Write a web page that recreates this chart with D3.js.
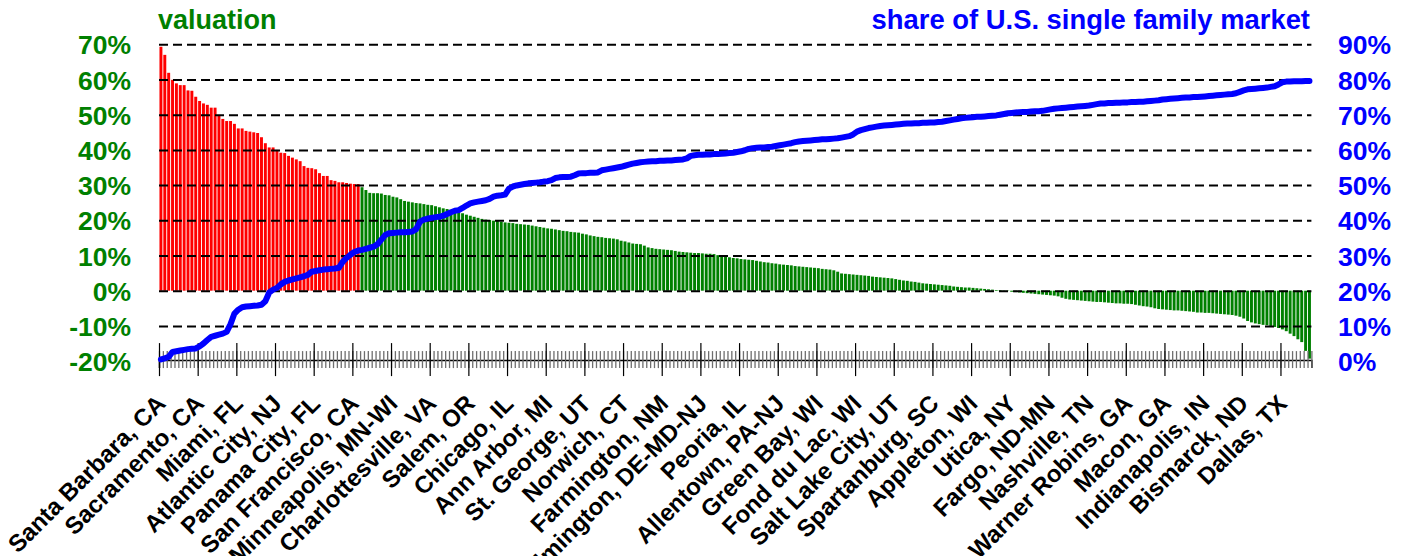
<!DOCTYPE html>
<html><head><meta charset="utf-8">
<script src="https://cdn.jsdelivr.net/npm/d3@7"></script>
<style>html,body{margin:0;padding:0;background:#fff;} svg{display:block;font-family:"Liberation Sans",Arial,sans-serif;font-weight:bold;}</style>
</head><body><svg id="c" width="1408" height="556"></svg>
<script>
const labels = ["Santa Barbara, CA","Sacramento, CA","Miami, FL","Atlantic City, NJ","Panama City, FL","San Francisco, CA","Minneapolis, MN-WI","Charlottesville, VA","Salem, OR","Chicago, IL","Ann Arbor, MI","St. George, UT","Norwich, CT","Farmington, NM","Wilmington, DE-MD-NJ","Peoria, IL","Allentown, PA-NJ","Green Bay, WI","Fond du Lac, WI","Salt Lake City, UT","Spartanburg, SC","Appleton, WI","Utica, NY","Fargo, ND-MN","Nashville, TN","Warner Robins, GA","Macon, GA","Indianapolis, IN","Bismarck, ND","Dallas, TX"];

const valuation = [
69.3,67.0,61.9,59.9,58.9,58.4,58.4,56.9,56.8,55.1,
53.9,53.2,52.8,52.0,52.0,49.9,48.8,48.2,48.2,47.4,
46.1,46.1,45.4,45.2,45.0,44.8,43.6,41.9,40.7,40.7,
40.0,39.2,39.1,38.3,37.8,37.3,36.8,35.4,34.9,34.8,
34.5,33.4,32.6,32.6,31.4,31.2,30.8,30.8,30.6,30.4,
30.3,30.3,29.4,28.6,27.8,27.7,27.7,27.6,27.2,27.1,
26.7,26.5,26.0,25.5,25.3,25.1,24.9,24.8,24.6,24.4,
24.3,24.0,23.7,23.4,23.2,22.9,22.5,22.2,22.0,21.6,
21.3,21.0,20.7,20.4,20.2,20.1,19.9,19.8,19.6,19.4,
19.3,19.2,19.0,18.9,18.8,18.7,18.5,18.3,18.1,17.9,
17.7,17.6,17.4,17.2,17.0,16.9,16.7,16.6,16.5,16.2,
16.0,15.7,15.5,15.3,15.2,15.0,14.9,14.8,14.6,14.2,
14.0,13.7,13.4,13.3,13.2,12.8,12.3,12.1,11.9,11.8,
11.7,11.6,11.5,11.3,11.1,11.0,10.9,10.8,10.7,10.7,
10.6,10.5,10.5,10.4,10.1,9.8,9.6,9.5,9.3,9.2,
9.0,8.9,8.8,8.7,8.5,8.3,8.1,8.0,7.8,7.7,
7.5,7.4,7.3,7.2,7.0,6.9,6.8,6.7,6.6,6.5,
6.4,6.2,6.1,6.0,5.8,5.4,4.9,4.8,4.7,4.6,
4.5,4.4,4.3,4.2,4.0,3.9,3.8,3.7,3.6,3.5,
3.3,3.1,2.9,2.8,2.6,2.5,2.3,2.1,2.0,1.9,
1.8,1.7,1.6,1.5,1.4,1.2,1.1,1.0,0.9,0.9,
0.8,0.7,0.6,0.5,0.4,0.3,0.2,0.2,0.1,-0.1,
-0.3,-0.4,-0.5,-0.6,-0.7,-0.8,-0.9,-1.0,-1.1,-1.2,
-1.3,-1.4,-1.6,-2.0,-2.3,-2.5,-2.6,-2.7,-2.8,-2.9,
-3.0,-3.1,-3.2,-3.2,-3.3,-3.4,-3.5,-3.6,-3.6,-3.7,
-3.7,-3.8,-4.0,-4.2,-4.4,-4.5,-4.7,-5.0,-5.2,-5.3,
-5.4,-5.5,-5.6,-5.6,-5.7,-5.8,-5.9,-6.0,-6.2,-6.2,
-6.3,-6.3,-6.4,-6.5,-6.6,-6.7,-6.8,-6.9,-7.1,-7.4,
-7.9,-8.6,-9.0,-9.3,-9.5,-9.7,-9.8,-10.0,-10.3,-10.6,
-11.0,-11.5,-12.2,-12.9,-13.8,-14.6,-17.1,-19.3];

const share = [
0.5,0.8,1.2,2.6,2.8,3.0,3.2,3.4,3.5,3.6,
4.2,5.0,6.0,6.9,7.2,7.5,7.8,8.3,10.5,13.5,
14.6,15.3,15.5,15.6,15.7,15.8,16.0,17.0,19.5,20.3,
20.8,21.8,22.5,22.9,23.2,23.5,23.8,24.1,24.5,25.4,
25.6,25.8,26.0,26.1,26.2,26.3,26.5,28.2,29.3,30.2,
31.0,31.4,31.6,31.9,32.2,32.5,33.2,34.5,35.8,36.3,
36.4,36.5,36.6,36.6,36.7,36.8,37.5,39.6,40.2,40.5,
40.7,40.9,41.0,41.3,41.8,42.3,42.7,42.9,43.5,44.2,
44.8,45.1,45.3,45.5,45.7,46.1,46.7,47.0,47.1,47.3,
49.0,49.6,49.9,50.1,50.3,50.5,50.6,50.7,50.8,51.0,
51.1,51.4,52.0,52.2,52.3,52.3,52.4,52.8,53.3,53.4,
53.4,53.5,53.5,53.6,54.2,54.4,54.6,54.8,55.0,55.2,
55.5,55.8,56.1,56.3,56.5,56.6,56.7,56.8,56.8,56.9,
56.9,57.0,57.0,57.1,57.2,57.3,57.6,58.3,58.5,58.6,
58.6,58.7,58.7,58.8,58.8,58.9,59.0,59.1,59.2,59.4,
59.6,59.9,60.3,60.5,60.6,60.7,60.7,60.8,60.9,61.1,
61.3,61.5,61.7,61.9,62.2,62.4,62.5,62.6,62.7,62.8,
62.9,63.0,63.0,63.1,63.2,63.3,63.5,63.7,63.9,64.4,
65.2,65.6,65.9,66.2,66.4,66.6,66.8,66.9,67.0,67.1,
67.2,67.3,67.4,67.5,67.5,67.6,67.6,67.7,67.7,67.8,
67.8,67.9,68.0,68.2,68.4,68.6,68.8,69.0,69.1,69.2,
69.3,69.4,69.4,69.5,69.6,69.7,69.8,70.0,70.2,70.4,
70.5,70.6,70.7,70.8,70.8,70.9,71.0,71.0,71.1,71.3,
71.5,71.7,71.8,71.9,72.0,72.1,72.2,72.3,72.4,72.5,
72.6,72.8,73.0,73.2,73.2,73.3,73.3,73.4,73.4,73.5,
73.5,73.6,73.6,73.7,73.7,73.8,73.9,74.0,74.1,74.3,
74.4,74.5,74.6,74.7,74.8,74.9,74.9,75.0,75.0,75.1,
75.2,75.3,75.4,75.5,75.6,75.7,75.8,75.9,76.1,76.5,
76.9,77.2,77.3,77.4,77.5,77.6,77.7,77.9,78.1,78.6,
79.2,79.4,79.4,79.5,79.5,79.5,79.6,79.6];

const leftTicks = [-20,-10,0,10,20,30,40,50,60,70];
const rightTicks = [0,10,20,30,40,50,60,70,80,90];

const N = valuation.length;
const L = 159, R = 1311.4, T = 44.3, B = 361.1;
const svg = d3.select("#c");
const x = d3.scaleBand().domain(d3.range(N)).range([L, R]).paddingInner(0.24).paddingOuter(0.12);
const xb = d3.scaleLinear().domain([0, N]).range([L, R]);
const yL = d3.scaleLinear().domain([-20, 70]).range([B, T]);
const yR = d3.scaleLinear().domain([0, 90]).range([B, T]);
const GREEN = "#008000", RED = "#ff0000", BLUE = "#0000ff";

// bars
svg.append("g").selectAll("rect").data(valuation).join("rect")
  .attr("x", (d,i) => x(i)).attr("width", x.bandwidth())
  .attr("y", d => yL(Math.max(0,d))).attr("height", d => Math.abs(yL(d) - yL(0)))
  .attr("fill", d => d >= 30 ? RED : GREEN);

// gridlines
const grid = svg.append("g").attr("transform", `translate(${L},0)`)
  .call(d3.axisLeft(yL).tickValues(leftTicks.filter(v => v > -20)).tickSize(-(R - L)).tickFormat(""));
grid.select(".domain").remove();
grid.selectAll("line").attr("stroke", "#000").attr("stroke-width", 2).attr("stroke-dasharray", "9,5");

// x axis: minor ticks at every category boundary
const minor = svg.append("g").attr("transform", `translate(0,${B - 1})`)
  .call(d3.axisBottom(xb).tickValues(d3.range(0, N + 1)).tickSize(8).tickFormat(""));
minor.select(".domain").attr("stroke", "#000").attr("stroke-width", 1.5);
minor.selectAll(".tick line").attr("y1", -9).attr("y2", 8).attr("stroke", "#6e6e6e").attr("stroke-width", 1.3);
const major = svg.append("g").attr("transform", `translate(0,${B - 1})`)
  .call(d3.axisBottom(xb).tickValues(d3.range(0, N + 1, 10)).tickSize(16).tickFormat(""));
major.select(".domain").remove();
major.selectAll(".tick line").attr("y1", -17).attr("y2", 16).attr("stroke", "#000").attr("stroke-width", 1.2);

// category labels
const lab = svg.append("g").attr("transform", `translate(0,${B})`)
  .call(d3.axisBottom(x).tickValues(d3.range(0, N, 10)).tickSize(0).tickFormat(i => labels[i / 10]));
lab.select(".domain").remove();
lab.selectAll("text")
  .attr("font-size", 24).attr("font-weight", "bold").attr("fill", "#000")
  .attr("text-anchor", "end").attr("y", 0).attr("dy", 0)
  .attr("transform", "translate(6,44) rotate(-45)");

// left axis
const la = svg.append("g").attr("transform", `translate(${131},0)`)
  .call(d3.axisLeft(yL).tickValues(leftTicks).tickSize(0).tickPadding(0).tickFormat(d => d + "%"));
la.select(".domain").remove();
la.selectAll("text").attr("font-size", 26.5).attr("font-weight", "bold").attr("fill", GREEN).attr("dy", "0.36em");

// right axis
const ra = svg.append("g").attr("transform", `translate(${1338},0)`)
  .call(d3.axisRight(yR).tickValues(rightTicks).tickSize(0).tickPadding(0).tickFormat(d => d + "%"));
ra.select(".domain").remove();
ra.selectAll("text").attr("font-size", 26.5).attr("font-weight", "bold").attr("fill", BLUE).attr("dy", "0.36em");

// share line
svg.append("path").datum(share)
  .attr("fill", "none").attr("stroke", BLUE).attr("stroke-width", 6)
  .attr("stroke-linejoin", "round").attr("stroke-linecap", "round")
  .attr("d", d3.line().x((d,i) => x(i) + x.bandwidth()/2).y(d => yR(d)));

// titles
svg.append("text").attr("x", 158).attr("y", 29).attr("font-size", 27).attr("fill", GREEN).text("valuation");
svg.append("text").attr("x", 1310).attr("y", 29).attr("text-anchor", "end").attr("font-size", 27.4).attr("fill", BLUE).text("share of U.S. single family market");
</script></body></html>
